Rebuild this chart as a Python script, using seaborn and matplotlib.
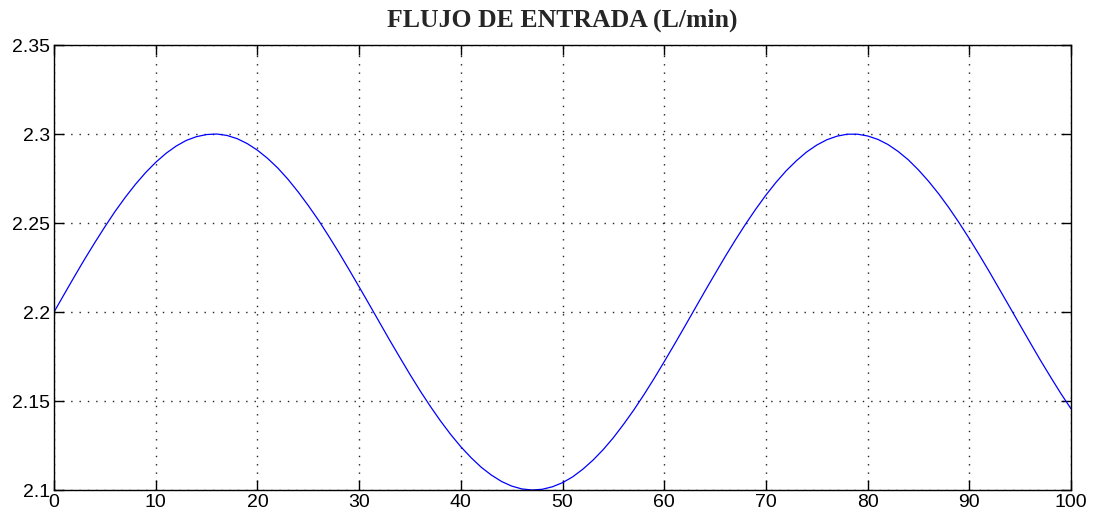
import matplotlib
matplotlib.use("Agg")
import matplotlib.pyplot as plt
import seaborn as sns
import pandas as pd

# values (one per minute)
time_min = list(range(0, 101))
flow = [2.2000, 2.2100, 2.2199, 2.2296, 2.2389, 2.2479, 2.2565, 2.2644, 2.2717, 2.2783,
        2.2841, 2.2891, 2.2932, 2.2964, 2.2985, 2.2997, 2.3000, 2.2992, 2.2974, 2.2946,
        2.2909, 2.2863, 2.2809, 2.2746, 2.2675, 2.2598, 2.2516, 2.2427, 2.2335, 2.2239,
        2.2141, 2.2042, 2.1942, 2.1842, 2.1745, 2.1649, 2.1557, 2.1470, 2.1388, 2.1312,
        2.1243, 2.1182, 2.1128, 2.1084, 2.1048, 2.1022, 2.1006, 2.1000, 2.1004, 2.1018,
        2.1041, 2.1074, 2.1117, 2.1168, 2.1227, 2.1294, 2.1369, 2.1449, 2.1535, 2.1626,
        2.1721, 2.1818, 2.1917, 2.2017, 2.2117, 2.2215, 2.2312, 2.2405, 2.2494, 2.2578,
        2.2657, 2.2729, 2.2794, 2.2850, 2.2899, 2.2938, 2.2968, 2.2988, 2.2999, 2.2999,
        2.2989, 2.2970, 2.2941, 2.2902, 2.2855, 2.2798, 2.2734, 2.2663, 2.2585, 2.2501,
        2.2412, 2.2319, 2.2223, 2.2124, 2.2025, 2.1925, 2.1826, 2.1728, 2.1634, 2.1542,
        2.1456]
x_ticks = [0, 10, 20, 30, 40, 50, 60, 70, 80, 90, 100]
y_ticks = [2.1, 2.15, 2.2, 2.25, 2.3, 2.35]
y_labels = ["2.1", "2.15", "2.2", "2.25", "2.3", "2.35"]
title = "FLUJO DE ENTRADA (L/min)"

sns.set_style("white")
plt.rcParams['font.family'] = ['Liberation Sans', 'DejaVu Sans']
plt.rcParams['lines.scale_dashes'] = False

df = pd.DataFrame({"t": time_min, "q": flow})

fig = plt.figure(figsize=(10.94, 5.21), dpi=100)
ax = fig.add_axes([0.0494, 0.0595, 0.979 - 0.0494, 0.9136 - 0.0595])
sns.lineplot(data=df, x="t", y="q", ax=ax, color="#0000ff", linewidth=0.9)

ax.set_xlim(0, 100)
ax.set_ylim(2.1, 2.35)
ax.set_xticks(x_ticks)
ax.set_xticklabels([str(v) for v in x_ticks])
ax.set_yticks(y_ticks)
ax.set_yticklabels(y_labels)
ax.set_xlabel("")
ax.set_ylabel("")
ax.grid(True, color="#222222", linestyle=(0, (1, 5)), linewidth=1.0)
ax.tick_params(direction="in", length=7, width=1, colors="black", labelsize=14,
               top=True, right=True, bottom=True, left=True, pad=3)
for s in ax.spines.values():
    s.set_color("black")
    s.set_linewidth(1.0)
    s.set_visible(True)
ax.set_title(title, fontfamily="Liberation Serif", fontweight="bold", fontsize=18.5, pad=13)

fig.savefig("out.png", dpi=100)
